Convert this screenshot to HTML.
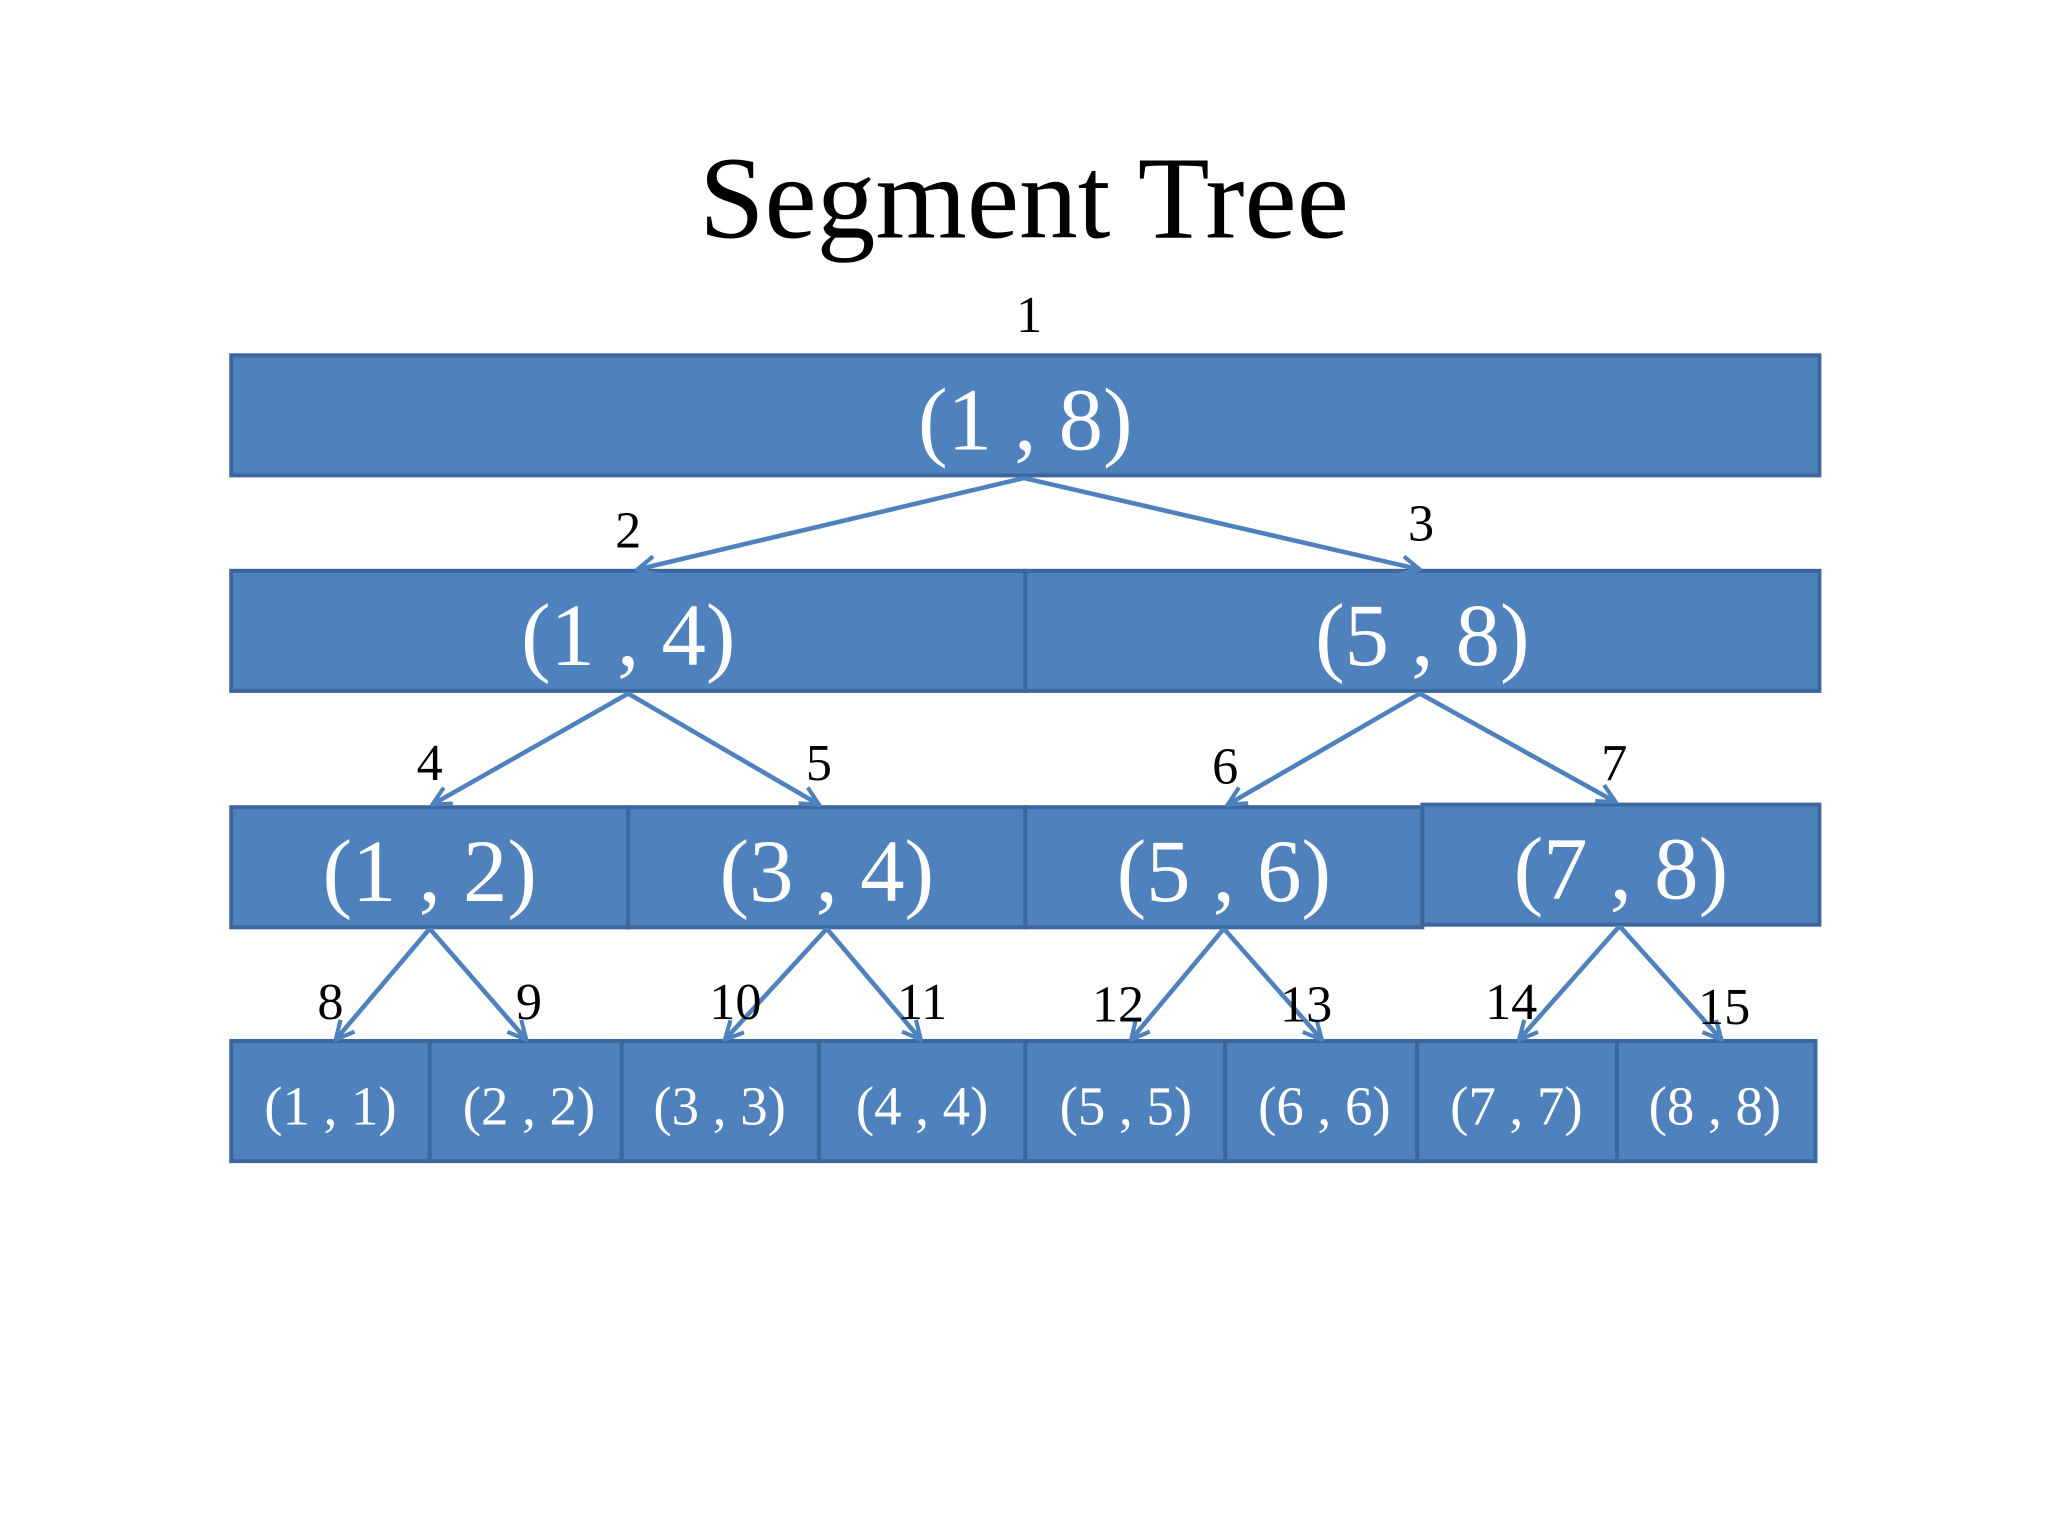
<!DOCTYPE html>
<html><head><meta charset="utf-8"><style>
html,body{margin:0;padding:0;background:#fff;}
svg{display:block;}
</style></head><body>
<svg width="2048" height="1536" viewBox="0 0 1568 1176" xmlns="http://www.w3.org/2000/svg">
<defs>
<marker id="ah" viewBox="0 0 10 10" refX="9" refY="5" markerWidth="5" markerHeight="5" orient="auto" markerUnits="strokeWidth">
<path d="M1 1 L9 5 L1 9" fill="none" stroke="#4F81BD" stroke-width="1.8"/>
</marker>
</defs>
<rect width="1568" height="1176" fill="#fff"/>
<text x="784" y="182" font-family="Liberation Serif, serif" font-size="90" text-anchor="middle" fill="#000">Segment Tree</text>
<g fill="#4F81BD" stroke="#3B679C" stroke-width="3">
<rect x="177" y="272" width="1216" height="92"/>
<rect x="177" y="437" width="608" height="92"/>
<rect x="785" y="437" width="608" height="92"/>
<rect x="177" y="618" width="304" height="92"/>
<rect x="481" y="618" width="304" height="92"/>
<rect x="785" y="618" width="304" height="92"/>
<rect x="1089" y="616" width="304" height="92"/>
<rect x="177" y="797" width="152" height="92"/>
<rect x="329" y="797" width="147" height="92"/>
<rect x="476" y="797" width="151" height="92"/>
<rect x="627" y="797" width="158" height="92"/>
<rect x="785" y="797" width="153" height="92"/>
<rect x="938" y="797" width="147" height="92"/>
<rect x="1085" y="797" width="153" height="92"/>
<rect x="1238" y="797" width="152" height="92"/>
</g>
<g fill="#fff" font-family="Liberation Serif, serif" text-anchor="middle">
<text x="785" y="344" font-size="68">(1 , 8)</text>
<text x="481" y="509" font-size="68">(1 , 4)</text>
<text x="1089" y="509" font-size="68">(5 , 8)</text>
<text x="329" y="690" font-size="68">(1 , 2)</text>
<text x="633" y="690" font-size="68">(3 , 4)</text>
<text x="937" y="690" font-size="68">(5 , 6)</text>
<text x="1241" y="688" font-size="68">(7 , 8)</text>
<g font-size="42">
<text x="253" y="861">(1 , 1)</text>
<text x="405" y="861">(2 , 2)</text>
<text x="551" y="861">(3 , 3)</text>
<text x="706" y="861">(4 , 4)</text>
<text x="862" y="861">(5 , 5)</text>
<text x="1014" y="861">(6 , 6)</text>
<text x="1161" y="861">(7 , 7)</text>
<text x="1313" y="861">(8 , 8)</text>
</g>
</g>
<g stroke="#4F81BD" stroke-width="3.5" fill="none" marker-end="url(#ah)">
<line x1="784" y1="366" x2="488" y2="436"/>
<line x1="784" y1="366" x2="1087" y2="436"/>
<line x1="481" y1="531" x2="331" y2="616"/>
<line x1="481" y1="531" x2="627" y2="616"/>
<line x1="1087" y1="531" x2="940" y2="616"/>
<line x1="1087" y1="531" x2="1237" y2="614"/>
<line x1="329" y1="711" x2="257" y2="796"/>
<line x1="329" y1="711" x2="403" y2="796"/>
<line x1="633" y1="711" x2="555" y2="796"/>
<line x1="633" y1="711" x2="705" y2="796"/>
<line x1="937" y1="711" x2="866" y2="796"/>
<line x1="937" y1="711" x2="1012" y2="796"/>
<line x1="1240" y1="709" x2="1163" y2="796"/>
<line x1="1240" y1="709" x2="1318" y2="796"/>
</g>
<g fill="#000" font-family="Liberation Serif, serif" font-size="40" text-anchor="middle">
<text x="788" y="254">1</text>
<text x="481" y="419">2</text>
<text x="1088" y="414">3</text>
<text x="329" y="597">4</text>
<text x="627" y="597">5</text>
<text x="938" y="600">6</text>
<text x="1236" y="597">7</text>
<text x="253" y="780">8</text>
<text x="405" y="780">9</text>
<text x="563" y="780">10</text>
<text x="706" y="780">11</text>
<text x="856" y="782">12</text>
<text x="1000" y="782">13</text>
<text x="1157" y="780">14</text>
<text x="1320" y="784">15</text>
</g>
</svg>
</body></html>
